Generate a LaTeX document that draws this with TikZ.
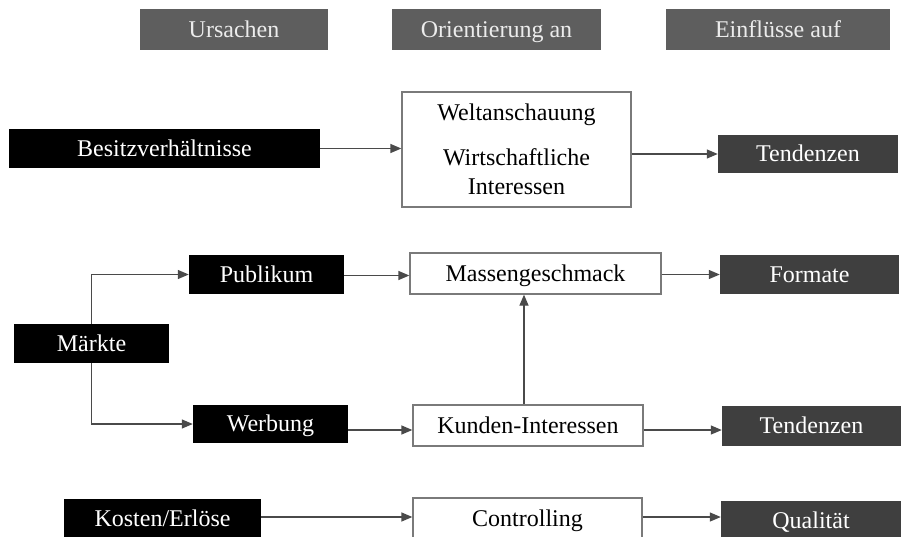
\documentclass[tikz,border=0pt]{standalone}
\usepackage{fontspec}
\setmainfont{Liberation Serif}
\usetikzlibrary{arrows.meta}
\definecolor{headgray}{HTML}{5E5E5E}
\definecolor{headtext}{HTML}{ECECEC}
\definecolor{outgray}{HTML}{3F3F3F}
\definecolor{linegray}{HTML}{4A4A4A}
\definecolor{framegray}{HTML}{7A7A7A}
\tikzset{
  base/.style={rectangle, inner sep=0pt, align=center,
    font=\fontsize{24}{29}\selectfont},
  oneline/.style={text height=18.5pt, text depth=3.5pt},
  headbox/.style={base, oneline, fill=headgray, text=headtext, minimum height=41pt},
  causebox/.style={base, oneline, fill=black, text=white, minimum height=39pt},
  frame/.style={base, fill=white, draw=framegray, line width=1.3pt, text=black},
  orientbox/.style={frame, oneline, minimum height=41pt},
  effectbox/.style={base, oneline, fill=outgray, text=white, minimum height=39pt},
  conn/.style={draw=linegray, line width=1.3pt,
    -{Triangle[length=11pt,width=9pt]}},
}
\begin{document}
\begin{tikzpicture}[x=1pt,y=-1pt]
\useasboundingbox (0,0) rectangle (916,536);
\clip (0,0) rectangle (916,536);

% column headings
\node[headbox, minimum width=188pt] (hU) at (234,29.5) {Ursachen};
\node[headbox, minimum width=209pt] (hO) at (496.5,29.5) {Orientierung an};
\node[headbox, minimum width=224pt] (hE) at (778,29.5) {Einflüsse auf};

% ownership row
\node[causebox, minimum width=311pt] (besitz) at (164.5,148.5) {Besitzverhältnisse};
\node[frame, minimum width=229pt, minimum height=115pt] (welt) at (516.5,149.5)
  {Weltanschauung\\[16pt]Wirtschaftliche\\Interessen};
\node[effectbox, minimum width=180pt, minimum height=38pt] (tend1) at (808,154) {Tendenzen};

% market rows
\node[causebox, minimum width=155pt] (maerkte) at (91.5,343.5) {Märkte};
\node[causebox, minimum width=155pt] (publikum) at (266.5,274.5) {Publikum};
\node[causebox, minimum width=155pt, minimum height=38pt] (werbung) at (270.5,424) {Werbung};
\node[orientbox, minimum width=251pt] (masse) at (535.5,273.5) {Massengeschmack};
\node[orientbox, minimum width=230pt] (kunden) at (528,425.5) {Kunden-Interessen};
\node[effectbox, minimum width=179pt] (formate) at (809.5,274.5) {Formate};
\node[effectbox, minimum width=179pt, minimum height=40pt] (tend2) at (811.5,426) {Tendenzen};

% cost row
\node[causebox, minimum width=197pt] (kosten) at (162.5,518.5) {Kosten/Erlöse};
\node[orientbox, minimum width=229pt] (controlling) at (527.5,518.5) {Controlling};
\node[effectbox, minimum width=180pt] (qualitaet) at (811,520.5) {Qualität};

% connectors
\draw[conn] (besitz.east) -- (besitz.east -| welt.west);
\draw[conn] (tend1.west -| welt.east) -- (tend1.west);

\draw[conn] (maerkte.north) |- (publikum.west);
\draw[conn] (maerkte.south) |- (werbung.west);
\draw[conn] ([yshift=-1pt]publikum.east) -- ([yshift=-1pt]publikum.east -| masse.west);
\draw[conn] (formate.west -| masse.east) -- (formate.west);
\draw[conn] ([yshift=-6pt]werbung.east) -- ([yshift=-6pt]werbung.east -| kunden.west);
\draw[conn] ([xshift=-4pt]kunden.north) -- ([xshift=-4pt]kunden.north |- masse.south);
\draw[conn] ([yshift=-4.5pt]kunden.east) -- ([yshift=-4.5pt]kunden.east -| tend2.west);

\draw[conn] ([yshift=1.5pt]kosten.east) -- ([yshift=1.5pt]kosten.east -| controlling.west);
\draw[conn] ([yshift=1.5pt]controlling.east) -- ([yshift=1.5pt]controlling.east -| qualitaet.west);
\end{tikzpicture}
\end{document}
